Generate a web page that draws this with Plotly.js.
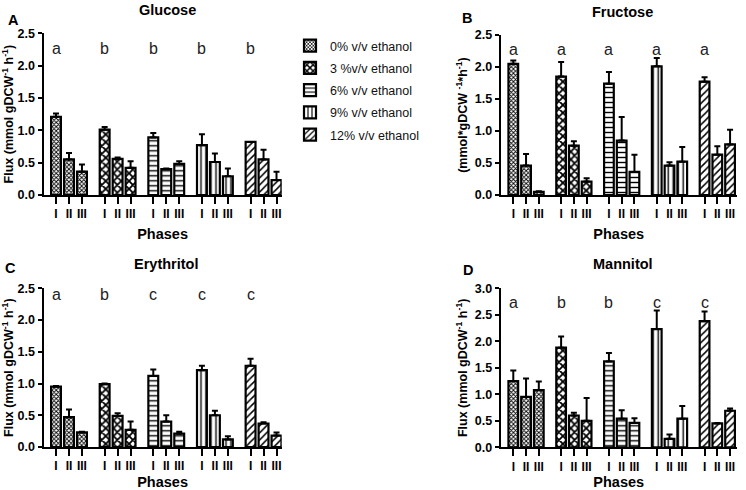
<!DOCTYPE html>
<html>
<head>
<meta charset="utf-8">
<script src="https://cdn.plot.ly/plotly-3.0.1.min.js"></script>
<style>html,body{margin:0;padding:0;background:#fff;}#chart{width:746px;height:490px;}</style>
</head>
<body>
<div id="chart"></div>
<script>
// ---- data ----
const seriesNames = ["0% v/v ethanol", "3 %v/v ethanol", "6% v/v ethanol", "9% v/v ethanol", "12% v/v ethanol"];
const phases = ["I", "II", "III"];

const glucoseMean = [[1.21, 0.55, 0.36], [1.01, 0.56, 0.42], [0.89, 0.40, 0.48], [0.77, 0.51, 0.29], [0.82, 0.55, 0.23]];
const glucoseErr  = [[0.05, 0.10, 0.11], [0.04, 0.02, 0.10], [0.07, 0.01, 0.04], [0.17, 0.13, 0.12], [0.00, 0.15, 0.13]];
const glucoseLetters = ["a", "b", "b", "b", "b"];

const fructoseMean = [[2.05, 0.46, 0.05], [1.85, 0.77, 0.21], [1.74, 0.85, 0.36], [2.01, 0.46, 0.52], [1.77, 0.63, 0.79]];
const fructoseErr  = [[0.05, 0.18, 0.01], [0.23, 0.07, 0.05], [0.18, 0.37, 0.27], [0.13, 0.05, 0.23], [0.07, 0.13, 0.23]];
const fructoseLetters = ["a", "a", "a", "a", "a"];

const erythritolMean = [[0.95, 0.47, 0.23], [0.99, 0.49, 0.27], [1.12, 0.40, 0.21], [1.21, 0.50, 0.12], [1.28, 0.37, 0.18]];
const erythritolErr  = [[0.01, 0.12, 0.01], [0.01, 0.04, 0.13], [0.10, 0.10, 0.03], [0.07, 0.07, 0.05], [0.11, 0.02, 0.05]];
const erythritolLetters = ["a", "b", "c", "c", "c"];

const mannitolMean = [[1.25, 0.95, 1.08], [1.88, 0.60, 0.50], [1.62, 0.54, 0.46], [2.23, 0.16, 0.54], [2.38, 0.45, 0.69]];
const mannitolErr  = [[0.20, 0.35, 0.16], [0.21, 0.05, 0.43], [0.16, 0.16, 0.09], [0.35, 0.08, 0.24], [0.18, 0.01, 0.04]];
const mannitolLetters = ["a", "b", "b", "c", "c"];

const panelTitles = ["Glucose", "Fructose", "Erythritol", "Mannitol"];
const panelTags = ["A", "B", "C", "D"];
const yTitles = ["Flux (mmol gDCW<sup>-1</sup> h<sup>-1</sup>)", "(mmol*gDCW <sup>-1</sup>*h<sup>-1</sup>)",
                 "Flux (mmol gDCW<sup>-1</sup> h<sup>-1</sup>)", "Flux (mmol gDCW<sup>-1</sup> h<sup>-1</sup>)"];

// ---- styling / layout helpers ----
const W = 746, H = 490;
const FONT = "Liberation Sans, Arial, sans-serif";
const GAP = 3.75;
const patterns = [
  {shape: "x", size: 3, solidity: 0.5},
  {shape: "x", size: 5.5, solidity: 0.55},
  {shape: "-", size: 5, solidity: 0.28},
  {shape: "|", size: 5, solidity: 0.28},
  {shape: "/", size: 5, solidity: 0.3}
];
const px = v => v / W;
const py = v => 1 - v / H;

const panels = [
  {mean: glucoseMean, err: glucoseErr, letters: glucoseLetters, letterY: 2.27, ymax: 2.5,
   xd: [43.5, 281.7], yd: [195, 33.3], xr: [-0.964, 17.40], title: [167, 9.5], tag: [13.5, 20.5]},
  {mean: fructoseMean, err: fructoseErr, letters: fructoseLetters, letterY: 2.27, ymax: 2.5,
   xd: [500.7, 736.7], yd: [195, 35], xr: [-0.988, 17.52], title: [622, 11.7], tag: [467, 18]},
  {mean: erythritolMean, err: erythritolErr, letters: erythritolLetters, letterY: 2.4, ymax: 2.5,
   xd: [43.5, 281.7], yd: [447, 288.3], xr: [-0.964, 17.40], title: [166, 264.3], tag: [10, 268]},
  {mean: mannitolMean, err: mannitolErr, letters: mannitolLetters, letterY: 2.73, ymax: 3.0,
   xd: [500.7, 736.7], yd: [447.3, 288.3], xr: [-0.988, 17.52], title: [623, 264.3], tag: [468, 269.7]}
];

const traces = [];
const layout = {
  width: W, height: H,
  margin: {l: 0, r: 0, t: 0, b: 0},
  paper_bgcolor: "#fff", plot_bgcolor: "#fff",
  font: {family: FONT, color: "#000"},
  barmode: "overlay",
  showlegend: true,
  legend: {x: px(290), y: py(31), xanchor: "left", yanchor: "top",
           font: {family: FONT, size: 12.5, color: "#111"}, tracegroupgap: 3, bgcolor: "rgba(0,0,0,0)"},
  annotations: []
};

const tickvals = [];
const ticktext = [];
for (let g = 0; g < seriesNames.length; g++) {
  for (let p = 0; p < phases.length; p++) { tickvals.push(g * GAP + p); ticktext.push("<b>" + phases[p] + "</b>"); }
}

panels.forEach((pn, i) => {
  const xa = "x" + (i === 0 ? "" : i + 1);
  const ya = "y" + (i === 0 ? "" : i + 1);
  seriesNames.forEach((name, g) => {
    traces.push({
      type: "bar",
      name: name,
      legendgroup: name,
      showlegend: i === 0,
      x: phases.map((_, p) => g * GAP + p),
      y: pn.mean[g],
      width: 0.76,
      xaxis: xa, yaxis: ya,
      marker: {color: "#fff",
               line: {color: "#000", width: 2.2},
               pattern: Object.assign({fgcolor: "#000", bgcolor: "#fff", fgopacity: 1, fillmode: "replace"}, patterns[g])},
      error_y: {type: "data", symmetric: false, array: pn.err[g], arrayminus: pn.err[g].map(() => 0),
                color: "#000", thickness: 2, width: 3},
      hoverinfo: "skip"
    });
    layout.annotations.push({
      xref: xa, yref: ya, x: g * GAP, y: pn.letterY, text: pn.letters[g], showarrow: false,
      font: {family: FONT, size: 16, color: "#222"}, xanchor: "center", yanchor: "middle"
    });
  });
  const xkey = "xaxis" + (i === 0 ? "" : i + 1);
  const ykey = "yaxis" + (i === 0 ? "" : i + 1);
  layout[xkey] = {
    domain: [px(pn.xd[0]), px(pn.xd[1])], range: pn.xr, anchor: ya,
    tickmode: "array", tickvals: tickvals, ticktext: ticktext,
    ticks: "outside", ticklen: 7, tickwidth: 2, tickcolor: "#000",
    showline: true, linewidth: 2, linecolor: "#000", showgrid: false, zeroline: false,
    tickfont: {family: FONT, size: 12, color: "#000"},
    title: {text: "<b>Phases</b>", font: {family: FONT, size: 14.5, color: "#000"}, standoff: 8},
    fixedrange: true
  };
  layout[ykey] = {
    domain: [py(pn.yd[0]), py(pn.yd[1])], range: [0, pn.ymax], anchor: xa,
    dtick: 0.5, tickformat: ".1f", tickprefix: "<b>", ticksuffix: "</b>",
    ticks: "outside", ticklen: 4, tickwidth: 2, tickcolor: "#000",
    showline: true, linewidth: 2, linecolor: "#000", showgrid: false, zeroline: false,
    tickfont: {family: FONT, size: 12.5, color: "#000"},
    title: {text: "<b>" + yTitles[i] + "</b>", font: {family: FONT, size: 12.5, color: "#000"}, standoff: 4},
    fixedrange: true
  };
  layout.annotations.push({
    xref: "paper", yref: "paper", x: px(pn.title[0]), y: py(pn.title[1]), text: "<b>" + panelTitles[i] + "</b>",
    showarrow: false, xanchor: "center", yanchor: "middle", font: {family: FONT, size: 14.5, color: "#000"}
  });
  layout.annotations.push({
    xref: "paper", yref: "paper", x: px(pn.tag[0]), y: py(pn.tag[1]), text: "<b>" + panelTags[i] + "</b>",
    showarrow: false, xanchor: "center", yanchor: "middle", font: {family: FONT, size: 14.5, color: "#000"}
  });
});

Plotly.newPlot("chart", traces, layout, {staticPlot: true, displayModeBar: false});
</script>
</body>
</html>
